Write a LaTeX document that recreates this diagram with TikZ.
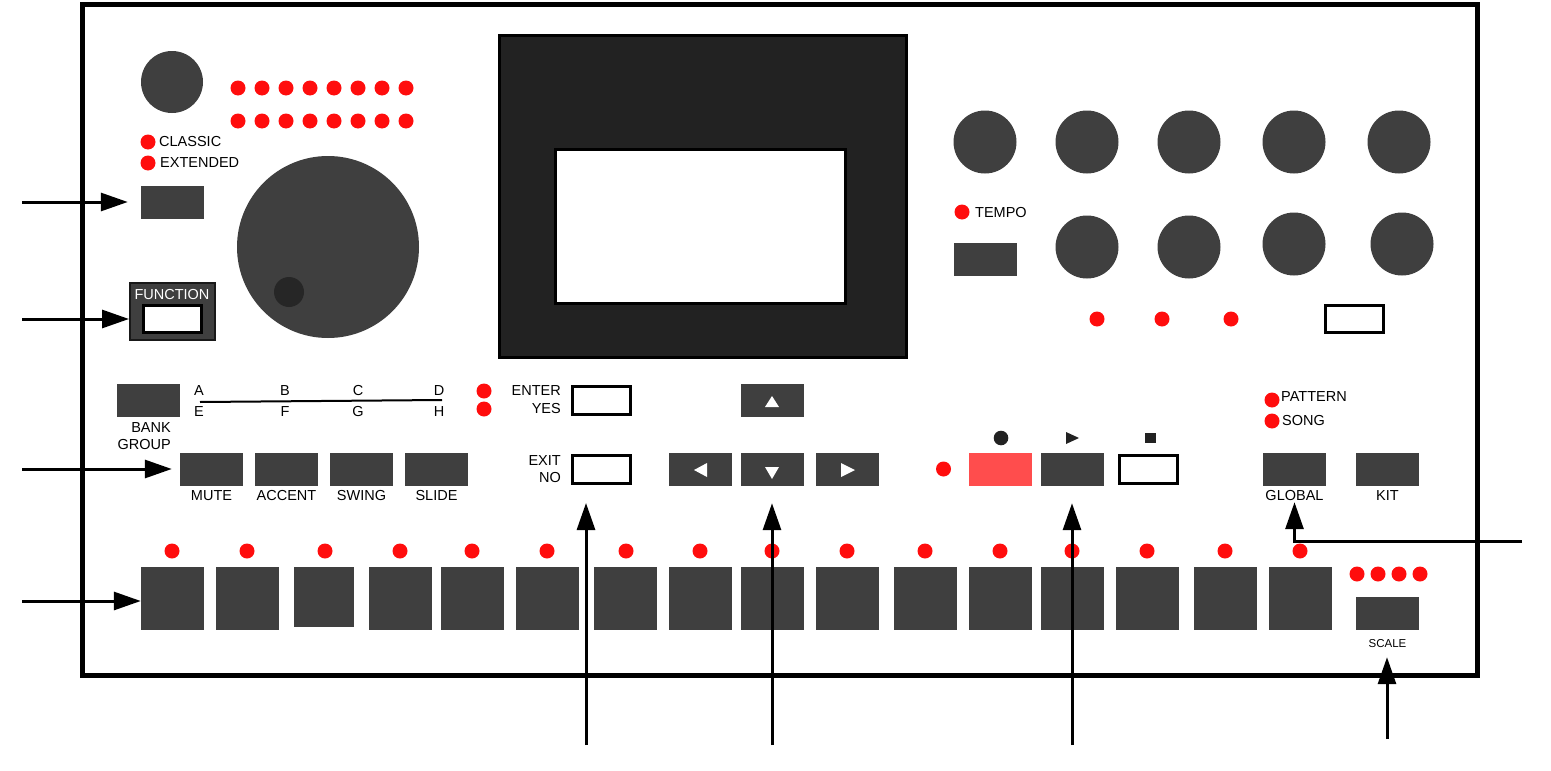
\documentclass[tikz,border=0pt]{standalone}
\usepackage{fontspec}
\setmainfont{Liberation Sans}
\usetikzlibrary{arrows.meta}
\definecolor{knob}{HTML}{3F3F3F}
\definecolor{led}{HTML}{FF0D0D}
\definecolor{rec}{HTML}{FF4D4D}
\definecolor{scr}{HTML}{222222}
\definecolor{kdotc}{HTML}{262626}
\begin{document}
\begin{tikzpicture}[x=1pt,y=-1pt,
  knobc/.style={circle, fill=knob, inner sep=0pt, minimum size=#1},
  ledc/.style={circle, fill=led, inner sep=0pt, minimum size=15pt},
  pad/.style={rectangle, fill=knob, inner sep=0pt, minimum width=63pt, minimum height=33pt},
  wbtn/.style={rectangle, draw=black, line width=3pt, fill=white, inner sep=0pt, minimum width=58pt, minimum height=28pt},
  stepbtn/.style={rectangle, fill=knob, inner sep=0pt, minimum width=63pt, minimum height=63pt},
  lbl/.style={font=\fontsize{14.5}{17.5}\selectfont, inner sep=0pt},
  arr/.style={line width=3pt, -{Triangle[length=27pt,width=18pt]}},
  wtri/.style={fill=white},
  sym/.style={fill=scr}
]
\useasboundingbox (0,0) rectangle (1551,771);
% frame
\draw[line width=5pt] (82.5,4.5) rectangle (1477,675.5);

% top left
\node[knobc=62pt] (k0) at (172,82) {};
\foreach \i in {0,...,7} {
  \node[ledc] (lt\i) at ({238+24*\i},88) {};
  \node[ledc] (lb\i) at ({238+24*\i},121) {};
}
\node[ledc] (lcl) at (148,142) {};
\node[lbl, anchor=west] (tcl) at (159,142) {CLASSIC};
\node[ledc] (lex) at (148,163) {};
\node[lbl, anchor=west] (tex) at (160,163) {EXTENDED};
\node[pad] (bsel) at (172.5,202.5) {};
\node[knobc=182pt] (kbig) at (328,247) {};
\node[circle, fill=kdotc, inner sep=0pt, minimum size=30pt] (kdot) at (289,292) {};
\node[rectangle, fill=knob, draw=black!90, line width=2pt, minimum width=85pt, minimum height=57pt, inner sep=0pt] (fnbox) at (172.5,311.5) {};
\node[lbl, text=white] (fnt) at (172,295) {FUNCTION};
\node[wbtn, minimum height=27pt] (fnb) at (172.5,319) {};

% screen
\node[rectangle, fill=scr, draw=black, line width=3pt, minimum width=407pt, minimum height=322pt, inner sep=0pt] (screen) at (703,196.5) {};
\node[rectangle, fill=white, draw=black, line width=3pt, minimum width=290pt, minimum height=154pt, inner sep=0pt] (lcd) at (700.5,226.5) {};

% right knobs
\foreach \x [count=\n] in {985,1087,1189,1294,1399} {
  \node[knobc=63pt] (ka\n) at (\x,142) {};
}
\node[knobc=63pt] (kb1) at (1087,247) {};
\node[knobc=63pt] (kb2) at (1189,247) {};
\node[knobc=63pt] (kb3) at (1294,244) {};
\node[knobc=63pt] (kb4) at (1402,244) {};
\node[ledc] (ltempo) at (962,212) {};
\node[lbl, anchor=west] (ttempo) at (975,213) {TEMPO};
\node[pad] (btempo) at (985.5,259.5) {};
\node[ledc] (lr1) at (1097,319) {};
\node[ledc] (lr2) at (1162,319) {};
\node[ledc] (lr3) at (1231,319) {};
\node[wbtn, minimum height=27pt] (wr) at (1354.5,319) {};

% bank
\node[pad] (bank) at (148.5,400.5) {};
\node[lbl, align=right, anchor=east] (tbank) at (171,436) {BANK\\GROUP};
\foreach \l/\x in {A/199,B/285,C/358,D/439} { \node[lbl] (t\l) at (\x,391) {\l}; }
\foreach \l/\x in {E/199,F/285,G/358,H/439} { \node[lbl] (t\l) at (\x,412) {\l}; }
\draw[line width=2pt] (200,402) -- (442,400);
\node[ledc] (lbk1) at (484,391) {};
\node[ledc] (lbk2) at (484,409) {};

% mute row
\foreach \nm/\x/\t in {mute/211.5/MUTE,accent/286.5/ACCENT,swing/361.5/SWING,slide/436.5/SLIDE} {
  \node[pad] (\nm) at (\x,469.5) {};
  \node[lbl] (t\nm) at (\x,496) {\t};
}

% enter / exit
\node[lbl, align=right, anchor=east] (tenter) at (561,399.5) {ENTER\\YES};
\node[wbtn] (enter) at (601.5,400.5) {};
\node[lbl, align=right, anchor=east] (texit) at (561,469) {EXIT\\NO};
\node[wbtn] (exit) at (601.5,469.5) {};

% arrow keys
\node[pad] (up) at (772.5,400.5) {};
\node[pad] (left) at (700.5,469.5) {};
\node[pad] (down) at (772.5,469.5) {};
\node[pad] (right) at (847.5,469.5) {};
\fill[wtri] (765,407) -- (779,407) -- (772,396) -- cycle;
\fill[wtri] (765,467) -- (779,467) -- (772,479) -- cycle;
\fill[wtri] (707,463) -- (707,477) -- (694,470) -- cycle;
\fill[wtri] (841,463) -- (841,477) -- (855,470) -- cycle;

% transport
\node[ledc] (ltr) at (943.5,469) {};
\node[rectangle, fill=rec, inner sep=0pt, minimum width=63pt, minimum height=33pt] (recb) at (1000.5,469.5) {};
\node[pad] (play) at (1072.5,469.5) {};
\node[wbtn] (stop) at (1148.5,469.5) {};
\fill[sym] (1001,438) circle (7.3);
\fill[sym] (1066,432) -- (1066,444) -- (1079,438) -- cycle;
\fill[sym] (1145,433) rectangle (1156,443);

% pattern / song
\node[ledc] (lpat) at (1272,400) {};
\node[lbl, anchor=west] (tpat) at (1281,397) {PATTERN};
\node[ledc] (lsong) at (1272,421) {};
\node[lbl, anchor=west] (tsong) at (1282,421) {SONG};
\node[pad] (glob) at (1294.5,469.5) {};
\node[lbl] (tglob) at (1294.5,496) {GLOBAL};
\node[pad] (kit) at (1387.5,469.5) {};
\node[lbl] (tkit) at (1387.5,496) {KIT};

% steps
\foreach \xl/\xd [count=\n] in {141/172,216/247,294/325,369/400,441/472,516/547,594/626,669/700,741/772,816/847,894/925,969/1000,1041/1072,1116/1147,1194/1225,1269/1300} {
  \node[ledc] (sl\n) at (\xd,551) {};
  \ifnum\n=3
    \node[stepbtn, minimum width=60pt, minimum height=60pt] (s\n) at ({\xl+30},597) {};
  \else
    \node[stepbtn] (s\n) at ({\xl+31.5},598.5) {};
  \fi
}

% scale
\foreach \x [count=\n] in {1357,1378,1399,1420} { \node[ledc] (lsc\n) at (\x,574) {}; }
\node[pad] (scale) at (1387.5,613.5) {};
\node[font=\fontsize{11.5}{13}\selectfont, inner sep=0pt] (tscale) at (1387.5,644) {SCALE};

% arrows
\coordinate (a1) at (22,202);
\coordinate (a2) at (22,319);
\coordinate (a3) at (22,469);
\coordinate (a4) at (22,601);
\coordinate (b1) at (586,745);
\coordinate (b2) at (772,745);
\coordinate (b3) at (1072,745);
\coordinate (b4) at (1522,541.5);
\coordinate (b5) at (1387,739);
\draw[arr, shorten >=13pt] (a1) -- (a1 -| bsel.west);
\draw[arr] (a2) -- (a2 -| fnbox.west);
\draw[arr, shorten >=8pt] (a3) -- (a3 -| mute.west);
\draw[arr] (a4) -- (a4 -| s1.west);
\draw[arr, shorten >=18pt] (b1) -- (b1 |- exit.south);
\draw[arr, shorten >=17pt] (b2) -- (b2 |- down.south);
\draw[arr, shorten >=17pt] (b3) -- (b3 |- play.south);
\draw[arr, shorten >=16pt] (b4) -| (glob.south);
\draw[arr, shorten >=27pt] (b5) -- (b5 |- scale.south);
\end{tikzpicture}
\end{document}
